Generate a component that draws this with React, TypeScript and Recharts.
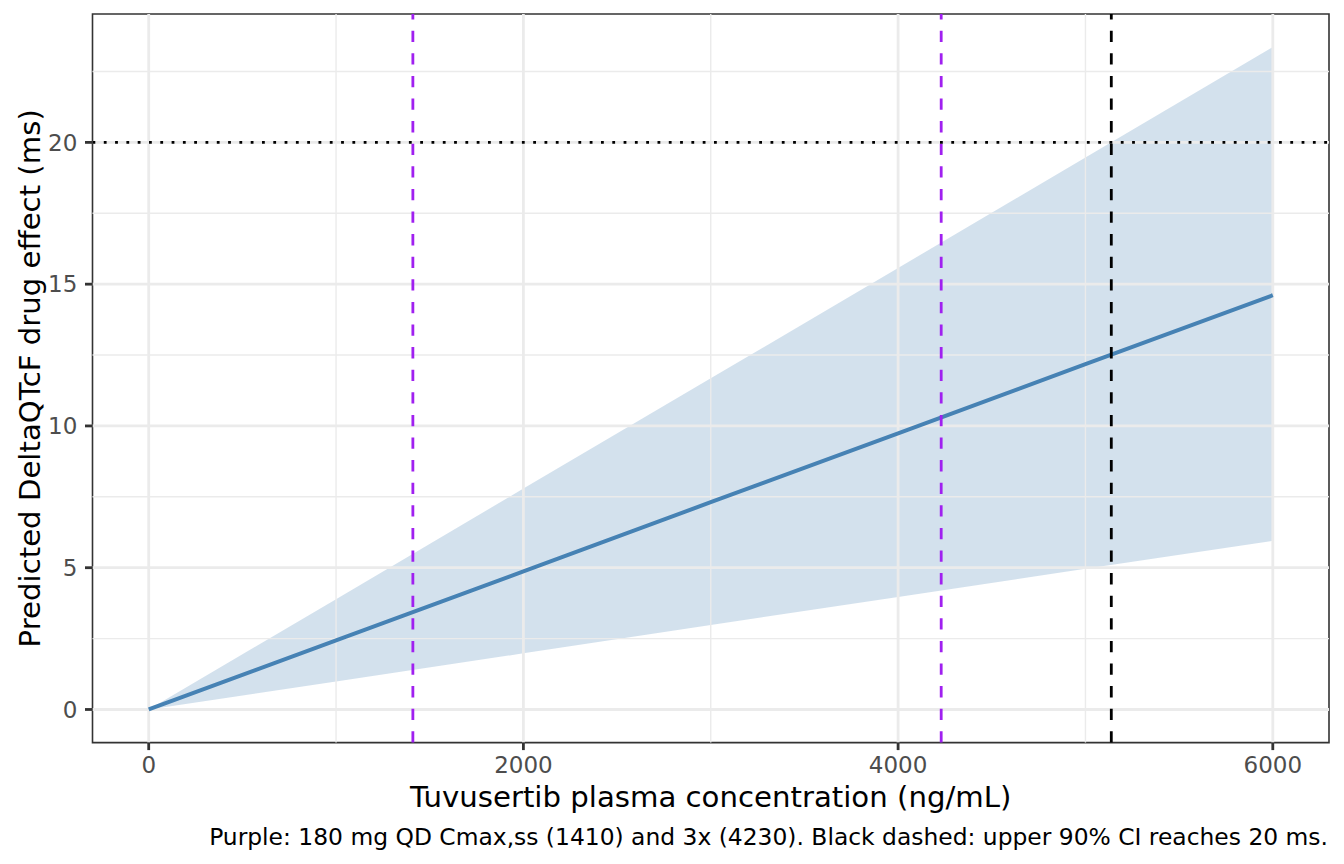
import {
  Area,
  ComposedChart,
  Line,
  ReferenceArea,
  ReferenceLine,
  XAxis,
  YAxis,
} from "recharts";

const concentration = [0, 1000, 2000, 3000, 4000, 5000, 6000];
const meanEffect = [0, 2.44, 4.87, 7.31, 9.74, 12.18, 14.61];
const lowerCI = [0, 0.99, 1.98, 2.98, 3.97, 4.96, 5.95];
const upperCI = [0, 3.89, 7.79, 11.68, 15.57, 19.47, 23.36];

const xTicks = [0, 2000, 4000, 6000];
const xMinor = [1000, 3000, 5000];
const yTicks = [0, 5, 10, 15, 20];
const yMinor = [2.5, 7.5, 12.5, 17.5, 22.5];

const cmaxLines = [1410, 4230];
const ciReaches20 = 5138;
const threshold = 20;

const X_DOMAIN: [number, number] = [-300, 6300];
const Y_DOMAIN: [number, number] = [-1.168, 24.528];

const xTitle = "Tuvusertib plasma concentration (ng/mL)";
const yTitle = "Predicted DeltaQTcF drug effect (ms)";
const caption =
  "Purple: 180 mg QD Cmax,ss (1410) and 3x (4230). Black dashed: upper 90% CI reaches 20 ms.";

const FONT = "DejaVu Sans";
const GRID = "#EBEBEB";
const BLUE = "#4682B4";
const PURPLE = "#A020F0";

const rows = concentration.map((c, i) => ({
  conc: c,
  mean: meanEffect[i],
  band: [lowerCI[i], upperCI[i]],
}));

const XTitle = () => (
  <g>
    <text x={710.7} y={807.3} textAnchor="middle" fontFamily={FONT} fontSize={29.2} fill="#000">
      {xTitle}
    </text>
    <text x={1328} y={845} textAnchor="end" fontFamily={FONT} fontSize={23.4} fill="#000">
      {caption}
    </text>
  </g>
);

const YTitle = () => (
  <text
    x={40}
    y={378.3}
    transform="rotate(-90, 40, 378.3)"
    textAnchor="middle"
    fontFamily={FONT}
    fontSize={29.2}
    fill="#000"
  >
    {yTitle}
  </text>
);

const tickStyle = { fontFamily: FONT, fontSize: 23, fill: "#4D4D4D" };

export default function App() {
  return (
    <div style={{ position: "absolute", left: 0, top: 0, background: "#fff" }}>
      <ComposedChart
        width={1344}
        height={864}
        data={rows}
        margin={{ top: 14, right: 15, bottom: 0, left: 0 }}
      >
        <XAxis
          dataKey="conc"
          type="number"
          domain={X_DOMAIN}
          ticks={xTicks}
          allowDataOverflow
          height={121.4}
          axisLine={false}
          tickSize={7.5}
          tickMargin={7}
          tickLine={{ stroke: "#333333", strokeWidth: 2.8 }}
          tick={tickStyle}
          label={XTitle}
        />
        <YAxis
          type="number"
          domain={Y_DOMAIN}
          ticks={yTicks}
          allowDataOverflow
          width={92.5}
          axisLine={false}
          tickSize={7.5}
          tickMargin={7.7}
          tickLine={{ stroke: "#333333", strokeWidth: 2.8 }}
          tick={tickStyle}
          label={YTitle}
        />

        {yMinor.map(v => (
          <ReferenceLine key={`ym${v}`} y={v} stroke={GRID} strokeWidth={1.4} />
        ))}
        {xMinor.map(v => (
          <ReferenceLine key={`xm${v}`} x={v} stroke={GRID} strokeWidth={1.4} />
        ))}
        {yTicks.map(v => (
          <ReferenceLine key={`yM${v}`} y={v} stroke={GRID} strokeWidth={2.8} />
        ))}
        {xTicks.map(v => (
          <ReferenceLine key={`xM${v}`} x={v} stroke={GRID} strokeWidth={2.8} />
        ))}

        <Area
          dataKey="band"
          type="linear"
          stroke="none"
          fill={BLUE}
          fillOpacity={0.24}
          isAnimationActive={false}
          activeDot={false}
        />
        <Line
          dataKey="mean"
          type="linear"
          stroke={BLUE}
          strokeWidth={4}
          dot={false}
          activeDot={false}
          isAnimationActive={false}
        />

        {cmaxLines.map(v => (
          <ReferenceLine
            key={`c${v}`}
            x={v}
            stroke={PURPLE}
            strokeWidth={2.8}
            strokeDasharray="11.3 11.3"
          />
        ))}
        <ReferenceLine x={ciReaches20} stroke="#000" strokeWidth={2.8} strokeDasharray="11.3 11.3" />
        <ReferenceLine y={threshold} stroke="#000" strokeWidth={2.8} strokeDasharray="2.8 8.5" />

        <ReferenceArea
          x1={X_DOMAIN[0]}
          x2={X_DOMAIN[1]}
          y1={Y_DOMAIN[0]}
          y2={Y_DOMAIN[1]}
          fill="none"
          stroke="#333333"
          strokeWidth={1.6}
        />
      </ComposedChart>
    </div>
  );
}
